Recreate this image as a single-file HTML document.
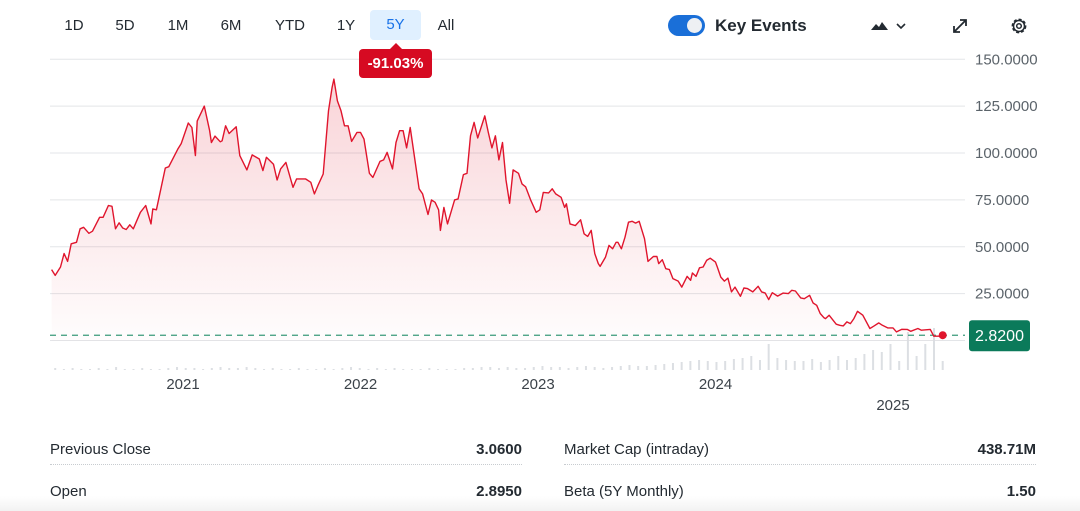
<!DOCTYPE html>
<html><head><meta charset="utf-8"><style>
body{margin:0;width:1080px;height:511px;background:#fff;font-family:"Liberation Sans",sans-serif;color:#232a31;overflow:hidden;position:relative}
.p{position:absolute;top:14px;font-size:15px;height:24px;line-height:24px;text-align:center;color:#232a31}
.sel{background:#e0f0ff;color:#1a73e8;border-radius:4px}
.row{position:absolute;font-size:15px;color:#232a31}
.sep{position:absolute;height:0;border-top:1px dotted #c8ccd0}
</style></head><body>
<div class="p" style="left:60px;width:28px">1D</div>
<div class="p" style="left:111px;width:28px">5D</div>
<div class="p" style="left:164px;width:28px">1M</div>
<div class="p" style="left:217px;width:28px">6M</div>
<div class="p" style="left:272px;width:36px">YTD</div>
<div class="p" style="left:332px;width:28px">1Y</div>
<div class="p sel" style="left:370px;width:51px;top:10px;height:30px;line-height:30px">5Y</div>
<div class="p" style="left:432px;width:28px">All</div>
<svg id="chart" style="position:absolute;left:0;top:0" width="1080" height="420">
<defs><linearGradient id="g" x1="0" y1="0" x2="0" y2="1"><stop offset="0" stop-color="#e0283c" stop-opacity="0.2"/><stop offset="1" stop-color="#e0283c" stop-opacity="0.01"/></linearGradient></defs>
</svg>
<div style="position:absolute;z-index:5;left:359px;top:49px;width:73px;height:29px;background:#d60a22;border-radius:4px;color:#fff;font-size:15px;font-weight:bold;line-height:29px;text-align:center">-91.03%</div>
<div style="position:absolute;z-index:5;left:390px;top:43px;width:0;height:0;border-left:6px solid transparent;border-right:6px solid transparent;border-bottom:6px solid #d60a22"></div>
<div style="position:absolute;left:668px;top:15px;width:37px;height:21px;background:#1a6fd8;border-radius:11px"><div style="position:absolute;right:3px;top:3px;width:15px;height:15px;border-radius:50%;background:#eef0f3"></div></div>
<div style="position:absolute;left:715px;top:15px;font-size:17px;font-weight:bold;line-height:22px">Key Events</div>
<svg style="position:absolute;left:870px;top:18px" width="40" height="16"><path d="M1 12 L6 6 L9 9 L12 4 L18 12 Z" fill="#232a31"/><path d="M27 6 L31 10 L35 6" stroke="#232a31" stroke-width="1.6" fill="none"/></svg>
<svg style="position:absolute;left:951px;top:17px" width="18" height="18"><path d="M3 15 L15 3 M9 3 H15 V9 M3 9 V15 H9" stroke="#232a31" stroke-width="1.8" fill="none"/></svg>
<svg style="position:absolute;left:1010px;top:17px" width="18" height="18"><circle cx="9" cy="9" r="6.5" stroke="#232a31" stroke-width="1.8" fill="none" stroke-dasharray="3 2"/><circle cx="9" cy="9" r="5.5" stroke="#232a31" stroke-width="1.5" fill="none"/><circle cx="9" cy="9" r="2.3" stroke="#232a31" stroke-width="1.5" fill="none"/></svg>

<div class="row" style="left:50px;top:441px">Previous Close</div>
<div class="row" style="right:558px;top:441px;font-weight:bold">3.0600</div>
<div class="row" style="left:564px;top:441px">Market Cap (intraday)</div>
<div class="row" style="right:44px;top:441px;font-weight:bold">438.71M</div>
<div class="sep" style="left:50px;width:472px;top:464px"></div>
<div class="sep" style="left:564px;width:472px;top:464px"></div>
<div class="row" style="left:50px;top:483px">Open</div>
<div class="row" style="right:558px;top:483px;font-weight:bold">2.8950</div>
<div class="row" style="left:564px;top:483px">Beta (5Y Monthly)</div>
<div class="row" style="right:44px;top:483px;font-weight:bold">1.50</div>
<div style="position:absolute;left:0;top:496px;width:1080px;height:15px;background:linear-gradient(#fff0,#f2f2f2)"></div>

<script>
const dates=[2020.26,2020.28,2020.31,2020.33,2020.35,2020.37,2020.40,2020.42,2020.44,2020.47,2020.49,2020.53,2020.55,2020.58,2020.60,2020.62,2020.64,2020.66,2020.68,2020.70,2020.72,2020.76,2020.79,2020.82,2020.83,2020.85,2020.90,2020.92,2020.97,2020.99,2021.03,2021.05,2021.07,2021.08,2021.12,2021.15,2021.16,2021.18,2021.21,2021.22,2021.24,2021.26,2021.30,2021.32,2021.36,2021.39,2021.43,2021.45,2021.47,2021.51,2021.53,2021.55,2021.58,2021.62,2021.64,2021.69,2021.72,2021.74,2021.76,2021.79,2021.82,2021.84,2021.85,2021.87,2021.89,2021.91,2021.93,2021.95,2021.98,2022.00,2022.02,2022.05,2022.07,2022.11,2022.13,2022.15,2022.18,2022.20,2022.22,2022.24,2022.26,2022.28,2022.33,2022.35,2022.38,2022.40,2022.42,2022.44,2022.45,2022.47,2022.49,2022.53,2022.55,2022.58,2022.60,2022.62,2022.64,2022.66,2022.70,2022.72,2022.74,2022.76,2022.78,2022.80,2022.82,2022.84,2022.86,2022.89,2022.91,2022.93,2022.96,2022.99,2023.01,2023.03,2023.06,2023.08,2023.10,2023.13,2023.15,2023.16,2023.18,2023.21,2023.24,2023.26,2023.28,2023.30,2023.32,2023.34,2023.35,2023.38,2023.40,2023.42,2023.44,2023.45,2023.47,2023.49,2023.51,2023.53,2023.55,2023.57,2023.60,2023.62,2023.65,2023.67,2023.68,2023.70,2023.72,2023.74,2023.76,2023.79,2023.81,2023.84,2023.86,2023.87,2023.89,2023.91,2023.93,2023.95,2023.97,2024.00,2024.01,2024.03,2024.05,2024.07,2024.09,2024.11,2024.14,2024.16,2024.18,2024.21,2024.24,2024.26,2024.28,2024.30,2024.32,2024.35,2024.38,2024.41,2024.43,2024.45,2024.48,2024.50,2024.53,2024.55,2024.57,2024.59,2024.61,2024.62,2024.64,2024.68,2024.70,2024.72,2024.74,2024.76,2024.78,2024.80,2024.83,2024.87,2024.89,2024.92,2024.94,2024.97,2025.00,2025.02,2025.05,2025.08,2025.10,2025.14,2025.16,2025.21,2025.23,2025.26,2025.28];
const prices=[37.8,34.7,39.2,46.4,42.2,51.6,52.4,59.6,60.4,57.2,58.3,65.7,65.7,72,71.6,59.6,62.8,60,59.2,61.7,59.6,68.4,72,62.2,70.2,69.7,92,92.7,102,105,116,113.6,98.6,117,125,112,105.6,109,106,106.5,114.5,110.4,114,98.6,91,99,96.8,90.6,97.7,94,85.6,91.5,95,81.7,86.2,86.2,84.4,78.2,82.6,88.8,122.5,135,139.4,127.8,122.5,114.5,114.5,106.2,111,111,107.4,89.2,87,95.5,96.3,100.3,91.5,105.6,111.9,111.9,102.7,113.6,80.9,78.2,67.2,75,73.7,69.7,58.7,71,62.2,75,75.5,88.5,89.2,109.2,116.3,108,119.8,111,102.7,109.2,96.3,105.6,85.6,73.2,91,89.2,83.5,82,74.6,68.4,69.7,79,78.7,80.9,78.2,76.4,71,72.9,62.2,61.3,64.4,56.9,55.5,58.7,46.3,41,39.5,44.5,50.7,48.9,52.4,52.4,48.9,55.1,63.1,63.6,62.6,63.6,54.3,42.2,44.8,44.8,41,43.1,38.3,37.8,33,31.7,28.5,34.2,32.1,36,34.2,38.8,39.2,42.7,43.9,41.8,39.2,33.8,31.7,33.3,25.9,28.5,23.6,28,27.7,25.9,28.9,25.9,25.3,21.8,25.5,23.7,25.3,25,26.8,26.4,22.7,22.3,24.1,20,18.8,14.4,12.2,11.7,13.5,8.7,8.1,7.8,9.9,9,11.7,15.6,13.5,6.4,7.6,9.4,8.1,6.7,6.7,4.6,6,5.9,4.9,6.4,5.5,5.9,2.3,2.3,2.82];
const yTicks=[150,125,100,75,50,25,0];
const yTickLabels=["150.0000","125.0000","100.0000","75.0000","50.0000","25.0000",""];
const xTickYears=[2021,2022,2023,2024,2025];
const volumes=[2,1,2,1,1,2,1,3,1,1,2,1,1,2,3,2,2,1,2,3,2,2,3,2,1,2,1,1,2,1,1,2,1,2,3,2,1,2,1,2,1,1,1,2,1,1,1,2,2,3,3,2,3,2,2,3,4,3,3,2,3,4,3,2,3,4,5,4,4,5,6,7,8,9,10,9,8,9,11,12,14,10,26,12,10,9,9,11,8,10,14,10,12,16,20,18,26,9,38,14,26,42,9];
const volStart=2020.28, volEnd=2025.28;
const lastPrice=2.82;

const svg=document.getElementById('chart');
const NS='http://www.w3.org/2000/svg';
const X=t=>183+(t-2021)*177.5;
const Y=v=>340.5-v*1.875;
const VY=v=>370-v;
function mk(tag,attrs){const e=document.createElementNS(NS,tag);for(const k in attrs)e.setAttribute(k,attrs[k]);svg.appendChild(e);return e;}
yTicks.forEach((v,i)=>{
  const l=mk('line',{x1:50,x2:965,y1:Y(v),y2:Y(v),stroke:'#e3e5e8','stroke-width':1});
  
  
  if(yTickLabels[i]){const t=mk('text',{x:975,y:Y(v)+5,'font-size':15,fill:'#5b636a','font-family':'Liberation Sans, sans-serif'});t.textContent=yTickLabels[i];
  
  }
});
xTickYears.forEach(y=>{
  const t=mk('text',{x:X(y),y:y===2025?410:389,'font-size':15,fill:'#3b4249','text-anchor':'middle','font-family':'Liberation Sans, sans-serif'});t.textContent=y;
  
  
});
const step=(X(volEnd)-X(volStart))/(volumes.length-1);
volumes.forEach((v,i)=>{
  const x=X(volStart)+i*step;
  const r=mk('rect',{x:x-1,y:VY(v),width:2,height:v,fill:'#dcdfe3'});
  
  
});
let d='';dates.forEach((t,i)=>{d+=(i?'L':'M')+X(t).toFixed(1)+' '+Y(prices[i]).toFixed(1);});
const area=mk('path',{d:d+'L'+X(dates[dates.length-1])+' 341 L'+X(dates[0])+' 341 Z',fill:'url(#g)'});


const dl=mk('line',{x1:50,x2:965,y1:Y(lastPrice),y2:Y(lastPrice),stroke:'#3a9a7a','stroke-width':1.2,'stroke-dasharray':'6 5'});


const line=mk('path',{d:d,fill:'none',stroke:'#e0152d','stroke-width':1.4,'stroke-linejoin':'round'});


const dot=mk('circle',{cx:X(dates[dates.length-1]),cy:Y(lastPrice),r:4,fill:'#e0152d'});


const tag=mk('rect',{x:969,y:Y(lastPrice)-15,width:61,height:31,rx:3,fill:'#0b7a5a'});


const tt=mk('text',{x:999.5,y:Y(lastPrice)+6,'font-size':16,fill:'#fff','text-anchor':'middle','font-family':'Liberation Sans, sans-serif'});tt.textContent=lastPrice.toFixed(4);


</script>
</body></html>
